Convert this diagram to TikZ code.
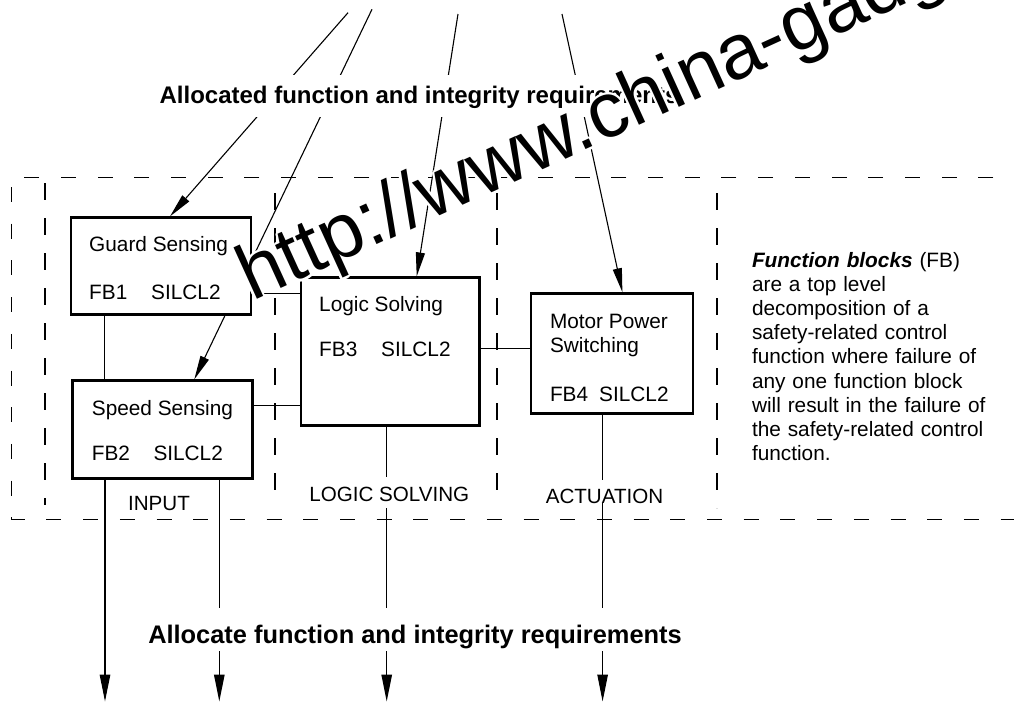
\documentclass[tikz,border=0pt]{standalone}
\usepackage{fontspec}
\setmainfont{Liberation Sans}
\usetikzlibrary{arrows.meta,calc}
\pgfdeclarelayer{bg}
\pgfsetlayers{bg,main}

\begin{document}
\begin{tikzpicture}[x=1pt,y=-1pt,
  fbbox/.style={draw, line width=2.6pt, fill=white, inner sep=0pt},
  txt/.style={anchor=base west, inner sep=0pt, font=\fontsize{20.8}{24.2}\selectfont},
  link/.style={line width=1.1pt},
  flowin/.style={line width=1.1pt, -{Triangle[length=24pt,width=9pt]}},
  flowout/.style={line width=1.1pt, -{Triangle[length=27pt,width=10.5pt]}},
  zoneh/.style={line width=1.3pt, dash pattern=on 15pt off 21.7pt},
  zonev/.style={line width=1.3pt, dash pattern=on 17pt off 18pt},
  zonelab/.style={anchor=base, fill=white, inner xsep=2pt, inner ysep=0pt,
    font=\fontsize{20.6}{24}\selectfont},
  reqlab/.style={anchor=base, fill=white, inner xsep=4pt, inner ysep=0pt},
  wm/.style={anchor=base west, rotate=24.5, inner sep=0pt, font=\fontsize{78}{82}\selectfont}
]
\useasboundingbox (0,0) rectangle (1014,702);
\clip (0,0) rectangle (1014,702);

% function blocks
\node[fbbox, minimum width=180pt, minimum height=96.6pt] (guard) at (161,266) {};
\node[fbbox, minimum width=180pt, minimum height=97.6pt] (speed) at (162.7,429.5) {};
\node[fbbox, minimum width=178.3pt, minimum height=148pt] (logic) at (390.2,351.7) {};
\node[fbbox, minimum width=162pt, minimum height=120pt] (motor) at (612,353.5) {};

% block texts
\node[txt] (gname) at (89,251.7) {Guard Sensing};
\node[txt] (gfb) at (89,299) {FB1};
\node[txt] (gsil) at (151,299) {SILCL2};
\node[txt] (sname) at (91.7,415) {Speed Sensing};
\node[txt] (sfb) at (91.7,460) {FB2};
\node[txt] (ssil) at (153.3,460) {SILCL2};
\node[txt] (lname) at (319,311.7) {Logic Solving};
\node[txt] (lfb) at (319,356.7) {FB3};
\node[txt] (lsil) at (381,356.7) {SILCL2};
\node[txt] (mname1) at (549.8,328.4) {Motor Power};
\node[txt] (mname2) at (549.8,352) {Switching};
\node[txt] (mfb) at (549.8,401.6) {FB4};
\node[txt] (msil) at (599,401.6) {SILCL2};

% explanation
\node[txt, text width=265pt, align=left] (note) at (751.8,267)
  {\textbf{\textit{Function blocks}} (FB)\\
   are a top level\\
   decomposition of a\\
   safety-related control\\
   function where failure of\\
   any one function block\\
   will result in the failure of\\
   the safety-related control\\
   function.};

% requirement labels
\node[reqlab, font=\bfseries\fontsize{24}{28}\selectfont, text height=28pt, text depth=14pt]
  (alloc) at (419,103) {Allocated function and integrity requirements};
\node[reqlab, font=\bfseries\fontsize{25.4}{30}\selectfont, text height=35pt, text depth=8pt]
  (allocout) at (415,643) {Allocate function and integrity requirements};

% zone labels
\node[zonelab] (zin) at (159,510) {INPUT};
\node[zonelab, text height=24.7pt, text depth=6.6pt] (zls) at (389.3,501.7) {LOGIC SOLVING};
\node[zonelab, text height=23.3pt, text depth=0pt] (zact) at (604.5,503.3) {ACTUATION};

\begin{pgfonlayer}{bg}
  % zone boundaries
  \draw[zoneh] (1030,177.7) -- (11.7,177.7) -- (11.7,519.3) -- (1030,519.3);
  \draw[zonev] (45,183) -- (45,505);
  \draw[zonev] (275,193) -- (275,507);
  \draw[zonev] (497,193) -- (497,507);
  \draw[zonev] (717,193) -- (717,508);

  % incoming requirements
  \coordinate (srcA) at (348,12.7);
  \coordinate (srcB) at (372,9.3);
  \coordinate (srcC) at (458,14);
  \coordinate (srcD) at (562,14);
  \draw[flowin] (srcA) -- ($(guard.north)+(9,0)$);
  \draw[flowin] (srcB) -- ($(speed.north)+(31.6,0)$);
  \draw[flowin] (srcC) -- ($(logic.north)+(26.5,0)$);
  \draw[flowin] (srcD) -- ($(motor.north)+(10.4,0)$);

  % links between blocks
  \coordinate (gs) at ($(guard.south)+(-56.7,0)$);
  \draw[link] (gs) -- (gs |- speed.north);
  \coordinate (gl) at ($(guard.east)+(0,27.3)$);
  \draw[link] (gl) -- (gl -| logic.west);
  \coordinate (sl) at ($(speed.east)+(0,-23.8)$);
  \draw[link] (sl) -- (sl -| logic.west);
  \coordinate (lm) at ($(logic.east)+(0,-2.9)$);
  \draw[link] (lm) -- (lm -| motor.west);

  % outgoing requirements
  \coordinate (o1) at (105,701.5);
  \coordinate (o2) at (219.3,701.5);
  \coordinate (o3) at (386.7,701.5);
  \coordinate (o4) at (602.6,701.5);
  \draw[flowout] (speed.south -| o1) -- (o1);
  \draw[flowout] (speed.south -| o2) -- (o2);
  \draw[flowout] (logic.south -| o3) -- (o3);
  \draw[flowout] (motor.south -| o4) -- (o4);
\end{pgfonlayer}

% stamped web address with a white rim
\coordinate (wmorg) at (252,302);
\foreach \a [count=\i] in {0,22.5,...,337.5}
  \node[wm, text=white] (wmh\i) at ($(wmorg)+(\a:2.2)$) {http://www.china-gadg};
\node[wm] (wmark) at (wmorg) {http://www.china-gadg};
\end{tikzpicture}
\end{document}
